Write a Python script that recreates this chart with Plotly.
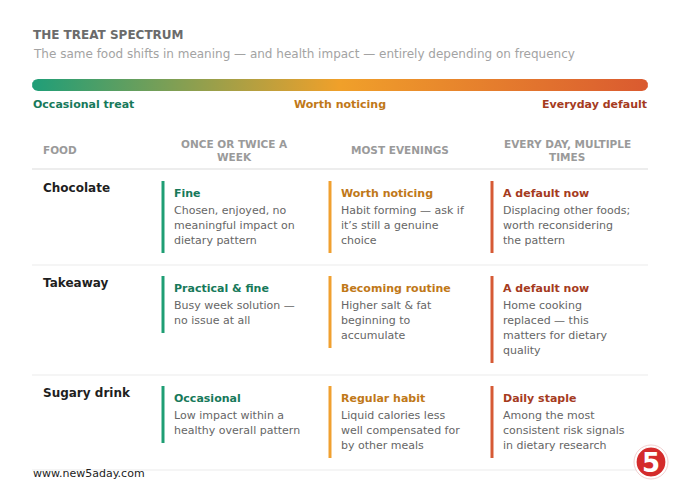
import numpy as np
import plotly.graph_objects as go

# ---- content ----
TITLE = "THE TREAT SPECTRUM"
SUBTITLE = "The same food shifts in meaning — and health impact — entirely depending on frequency"
SCALE_LABELS = ["Occasional treat", "Worth noticing", "Everyday default"]
FREQUENCIES = ["ONCE OR TWICE A<br>WEEK", "MOST EVENINGS", "EVERY DAY, MULTIPLE<br>TIMES"]
FOODS = ["Chocolate", "Takeaway", "Sugary drink"]
VERDICTS = [
    ["Fine", "Worth noticing", "A default now"],
    ["Practical & fine", "Becoming routine", "A default now"],
    ["Occasional", "Regular habit", "Daily staple"],
]
NOTES = [
    ["Chosen, enjoyed, no<br>meaningful impact on<br>dietary pattern",
     "Habit forming — ask if<br>it’s still a genuine<br>choice",
     "Displacing other foods;<br>worth reconsidering<br>the pattern"],
    ["Busy week solution —<br>no issue at all",
     "Higher salt & fat<br>beginning to<br>accumulate",
     "Home cooking<br>replaced — this<br>matters for dietary<br>quality"],
    ["Low impact within a<br>healthy overall pattern",
     "Liquid calories less<br>well compensated for<br>by other meals",
     "Among the most<br>consistent risk signals<br>in dietary research"],
]
FOOTER = "www.new5aday.com"

# tier colours: accent bar, title text
BAR_COLORS = ["#1f9e74", "#f0a030", "#d65a35"]
TEXT_COLORS = ["#17795a", "#c07818", "#a53b1e"]
GRADIENT = [[0, "#1f9e78"], [0.5, "#f0a02a"], [1, "#da5a30"]]

FONT = "DejaVu Sans"
W, H = 680, 498
L, R = 32, 648

fig = go.Figure()
ann = []
shapes = []


def text(x, y, s, size, color, bold=False, anchor="left"):
    ann.append(dict(x=x, y=y, text=s, showarrow=False, xanchor=anchor, yanchor="middle",
                    font=dict(family=FONT, size=size, color=color,
                              weight="bold" if bold else "normal")))


# title
text(L - 1, 35, TITLE, 12, "#6b6b6b", bold=True)
text(L - 1, 54, SUBTITLE, 12, "#a3a3a3")

# gradient scale bar with rounded ends
r = 6
cy = 85
t = np.linspace(np.pi / 2, 3 * np.pi / 2, 20)
left_x = L + r + r * np.cos(t)
left_y = cy - r * np.sin(t)
t2 = np.linspace(-np.pi / 2, np.pi / 2, 20)
right_x = R - r + r * np.cos(t2)
right_y = cy - r * np.sin(t2)
bx = np.concatenate([right_x, left_x])
by = np.concatenate([right_y, left_y])
fig.add_trace(go.Scatter(x=np.append(bx, bx[0]), y=np.append(by, by[0]), mode="lines",
                         fill="toself", line=dict(width=0),
                         fillgradient=dict(type="horizontal", colorscale=GRADIENT),
                         hoverinfo="skip", showlegend=False))

text(L - 1, 104, SCALE_LABELS[0], 11, TEXT_COLORS[0], bold=True)
text((L + R) / 2, 104, SCALE_LABELS[1], 11, TEXT_COLORS[1], bold=True, anchor="center")
text(R + 1, 104, SCALE_LABELS[2], 11, TEXT_COLORS[2], bold=True, anchor="right")

# table header
col_bar_x = [163, 330, 492]
col_centers = [234, 400, 567]
text(41, 150, "FOOD", 10.5, "#9a9a9a", bold=True)
for cx, lab in zip(col_centers, FREQUENCIES):
    lines = lab.split("<br>")
    for i, ln in enumerate(lines):
        y = 150 - 6.5 * (len(lines) - 1) + 13 * i
        text(cx, y, ln, 10.5, "#9a9a9a", bold=True, anchor="center")
shapes.append(dict(type="line", xref="x", yref="y", x0=L, x1=R, y0=169, y1=169,
                   line=dict(color="#dcdcdc", width=1.2)))

# rows
top = 180
for food, verdicts, notes in zip(FOODS, VERDICTS, NOTES):
    nlines = [len(n.split("<br>")) for n in notes]
    text(41, top + 8, food, 12, "#1f1f1f", bold=True)
    for c, (v, n, k) in enumerate(zip(verdicts, notes, nlines)):
        bx0 = col_bar_x[c]
        shapes.append(dict(type="line", xref="x", yref="y", x0=bx0, x1=bx0,
                           y0=top + 1, y1=top + 29 + 15 * k - 1,
                           line=dict(color=BAR_COLORS[c], width=3)))
        text(bx0 + 9, top + 13, v, 11, TEXT_COLORS[c], bold=True)
        for i, ln in enumerate(n.split("<br>")):
            text(bx0 + 9, top + 30 + 15 * i, ln, 11, "#666666")
    sep = top + 29 + 15 * max(nlines) + 11
    shapes.append(dict(type="line", xref="x", yref="y", x0=L, x1=R, y0=sep, y1=sep,
                       line=dict(color="#ececec", width=1.2)))
    top = sep + 10

# footer
text(L - 1, 473, FOOTER, 11, "#222222")

# logo
shapes.append(dict(type="circle", xref="x", yref="y", x0=634, x1=668, y0=445, y1=479,
                   fillcolor="#ffffff", line=dict(color="#e8b0b0", width=0.6)))
shapes.append(dict(type="circle", xref="x", yref="y", x0=636, x1=666, y0=447, y1=477,
                   fillcolor="#d42b2b", line=dict(color="#ffffff", width=1.2)))
text(651, 463, "5", 26, "#ffffff", bold=True, anchor="center")

fig.update_layout(
    width=W, height=H,
    margin=dict(l=0, r=0, t=0, b=0),
    paper_bgcolor="white", plot_bgcolor="white",
    xaxis=dict(range=[0, W], visible=False, fixedrange=True),
    yaxis=dict(range=[H, 0], visible=False, fixedrange=True),
    annotations=ann, shapes=shapes,
    showlegend=False,
)

fig.write_html("out.html", config={"displayModeBar": False},
               post_script="document.body.style.margin='0';document.body.style.overflow='hidden';")
